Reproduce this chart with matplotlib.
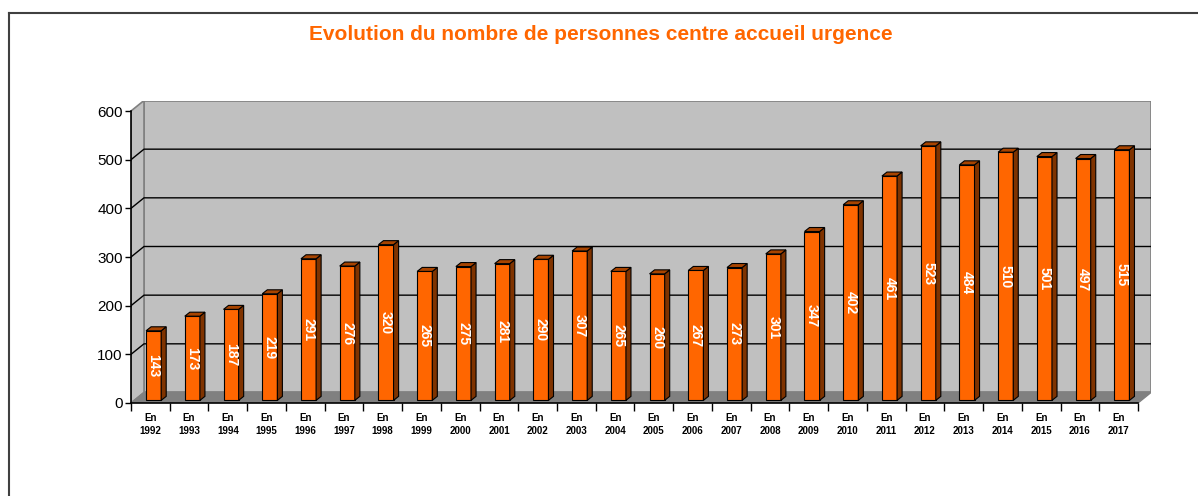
import matplotlib
matplotlib.use('Agg')
import matplotlib.pyplot as plt
from matplotlib.patches import Polygon
from matplotlib.lines import Line2D

years = list(range(1992, 2018))
values = [143, 173, 187, 219, 291, 276, 320, 265, 275, 281, 290, 307, 265,
          260, 267, 273, 301, 347, 402, 461, 523, 484, 510, 501, 497, 515]
xlabels = [f"En\n{y}" for y in years]
yticks = [0, 100, 200, 300, 400, 500, 600]
title = "Evolution du nombre de personnes centre accueil urgence"

plt.rcParams['font.family'] = ['Liberation Sans', 'DejaVu Sans']

W, H = 1198, 496
fig = plt.figure(figsize=(W / 100, H / 100), dpi=100)
ax = fig.add_axes([131 / W, 1 - 403 / H, 1020 / W, 302.5 / H])

n = len(values)
DX, DY = 0.3357, 21.6      # wall depth (data units)
YMAX = 600
BW = 0.39                  # bar width
BDX, BDY = 0.13, 8.2       # bar depth
F = 0.25                   # bar position in depth

ax.set_xlim(0, n + DX)
ax.set_ylim(0, YMAX + DY)

wall = '#C0C0C0'
edge = '#808080'
ax.add_patch(Polygon([(DX, DY), (n + DX, DY), (n + DX, YMAX + DY), (DX, YMAX + DY)],
                     closed=True, fc=wall, ec=edge, lw=1.2, zorder=0.5))
ax.add_patch(Polygon([(0, 0), (DX, DY), (DX, YMAX + DY), (0, YMAX)],
                     closed=True, fc=wall, ec=edge, lw=1.2, zorder=0.5))
for v in yticks[1:-1]:
    ax.plot([0, DX, n + DX], [v, v + DY, v + DY], color='black', lw=1, zorder=1)
ax.add_patch(Polygon([(0, 0), (n, 0), (n + DX, DY), (DX, DY)],
                     closed=True, fc='#808080', ec='#808080', lw=1, zorder=1.5))

for i, v in enumerate(values):
    x0 = i + 0.5 - BW / 2 + F * DX
    y0 = F * DY
    ax.bar(x0, v, width=BW, bottom=y0, align='edge', color='#FF6600',
           edgecolor='black', linewidth=0.8, zorder=3)
    ax.add_patch(Polygon([(x0 + BW, y0), (x0 + BW + BDX, y0 + BDY),
                          (x0 + BW + BDX, y0 + v + BDY), (x0 + BW, y0 + v)],
                         closed=True, fc='#7F3300', ec='black', lw=0.8, zorder=3))
    ax.add_patch(Polygon([(x0, y0 + v), (x0 + BDX, y0 + v + BDY),
                          (x0 + BW + BDX, y0 + v + BDY), (x0 + BW, y0 + v)],
                         closed=True, fc='#A84400', ec='black', lw=0.8, zorder=3))
    ax.text(x0 + BW / 2, y0 + v / 2, str(v), rotation=-90, ha='center', va='center',
            color='white', fontsize=10, fontweight='bold', zorder=4)

for s in ['top', 'right']:
    ax.spines[s].set_visible(False)
ax.spines['left'].set_bounds(0, YMAX)
ax.spines['bottom'].set_bounds(0, n)
ax.spines['left'].set_linewidth(1.2)
ax.spines['bottom'].set_linewidth(1.2)

ax.set_yticks(yticks)
ax.set_yticklabels([str(t) for t in yticks], fontsize=11)
ax.tick_params(axis='y', direction='out', length=4, width=1, pad=2)

ax.set_xticks(range(n + 1))
ax.set_xticklabels([''] * (n + 1))
ax.tick_params(axis='x', which='major', direction='out', length=6, width=1)
ax.set_xticks([i + 0.5 for i in range(n)], minor=True)
ax.set_xticklabels(xlabels, minor=True, fontsize=7, fontweight='bold', linespacing=1.35)
ax.tick_params(axis='x', which='minor', length=0, pad=7)

fig.text(601 / W, 1 - 34 / H, title, ha='center', va='center', color='#FF6600',
         fontsize=15, fontweight='bold')

fig.add_artist(Line2D([8.5 / W, 8.5 / W], [0, 1 - 12.5 / H], color='#404040', lw=1.5))
fig.add_artist(Line2D([8.5 / W, 1], [1 - 12.5 / H, 1 - 12.5 / H], color='#404040', lw=1.5))

fig.savefig('out.png', dpi=100)
